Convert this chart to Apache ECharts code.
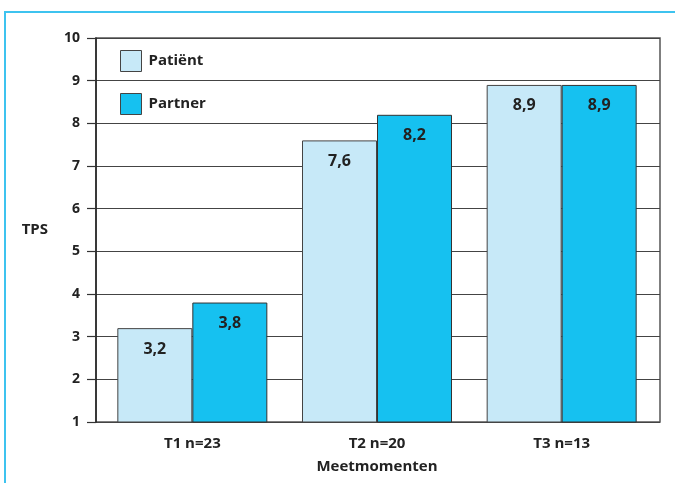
<!DOCTYPE html>
<html>
<head>
<meta charset="utf-8">
<script src="https://cdn.jsdelivr.net/npm/echarts@6/dist/echarts.min.js"></script>
<style>
  html, body { margin: 0; padding: 0; background: #fff; }
  #chart { width: 675px; height: 483px; }
</style>
</head>
<body>
<div id="chart"></div>
<script>
// Meetmomenten en TPS-scores per groep
const categories = ['T1 n=23', 'T2 n=20', 'T3 n=13'];
const patientValues = [3.2, 7.6, 8.9];
const partnerValues = [3.8, 8.2, 8.9];
const seriesNames = ['Patiënt', 'Partner'];
const yTicks = { min: 1, max: 10, interval: 1 };

const FONT = '"Open Sans", "Noto Sans", sans-serif';
const TEXT = '#222';

const chart = echarts.init(document.getElementById('chart'), null, { renderer: 'canvas' });

const labelStyle = {
  show: true,
  position: 'insideTop',
  distance: 13,
  fontFamily: FONT,
  fontWeight: 'bold',
  fontSize: 16,
  color: TEXT,
  formatter: p => String(p.value).replace('.', ',')
};

chart.setOption({
  animation: false,
  textStyle: { fontFamily: FONT },
  graphic: [{
    type: 'polyline',
    shape: { points: [[5, 483], [5, 12], [675, 12]] },
    style: { stroke: '#3ec3ef', lineWidth: 2, fill: null }
  }],
  legend: {
    orient: 'vertical',
    left: 115,
    top: 45,
    itemWidth: 21,
    itemHeight: 21,
    itemGap: 21,
    icon: 'rect',
    textStyle: { fontFamily: FONT, fontWeight: 'bold', fontSize: 15, color: TEXT, padding: [0, 0, 0, 2] },
    itemStyle: { borderColor: '#444', borderWidth: 1 },
    data: seriesNames
  },
  grid: [
    // frame, gridlines and value axis
    { left: 96, right: 15, top: 38, bottom: 61, show: true, borderColor: '#555', borderWidth: 1.5, backgroundColor: 'transparent' },
    // bars
    { left: 100, right: 21, top: 38, bottom: 61 }
  ],
  xAxis: [
    { type: 'category', gridIndex: 0, data: categories, show: false },
    {
      type: 'category', gridIndex: 1, data: categories,
      name: 'Meetmomenten', nameLocation: 'middle', nameGap: 37,
      nameTextStyle: { fontFamily: FONT, fontWeight: 'bold', fontSize: 15, color: TEXT },
      axisLine: { show: false },
      axisTick: { show: false },
      axisLabel: { margin: 14, fontFamily: FONT, fontWeight: 'bold', fontSize: 15, color: TEXT }
    }
  ],
  yAxis: [
    {
      type: 'value', gridIndex: 0,
      min: yTicks.min, max: yTicks.max, interval: yTicks.interval,
      name: 'TPS', nameLocation: 'middle', nameRotate: 0, nameGap: 48,
      nameTextStyle: { fontFamily: FONT, fontWeight: 'bold', fontSize: 15, color: TEXT },
      axisLine: { show: true, lineStyle: { color: '#222', width: 1.5 } },
      axisTick: { show: true, length: 9, lineStyle: { color: '#333', width: 1.2 } },
      axisLabel: { margin: 16, fontFamily: FONT, fontWeight: 'bold', fontSize: 14, color: TEXT },
      splitLine: { show: true, lineStyle: { color: '#444', width: 1.2 } }
    },
    {
      type: 'value', gridIndex: 1,
      min: yTicks.min, max: yTicks.max, interval: yTicks.interval,
      show: false
    }
  ],
  series: [
    {
      name: seriesNames[0], type: 'bar', xAxisIndex: 1, yAxisIndex: 1,
      data: patientValues, barWidth: 75, barGap: '0%',
      itemStyle: { color: '#c7e9f8', borderColor: '#444', borderWidth: 1 },
      label: labelStyle
    },
    {
      name: seriesNames[1], type: 'bar', xAxisIndex: 1, yAxisIndex: 1,
      data: partnerValues, barWidth: 75, barGap: '0%',
      itemStyle: { color: '#16c1f0', borderColor: '#333', borderWidth: 1 },
      label: labelStyle
    }
  ]
});
</script>
</body>
</html>
